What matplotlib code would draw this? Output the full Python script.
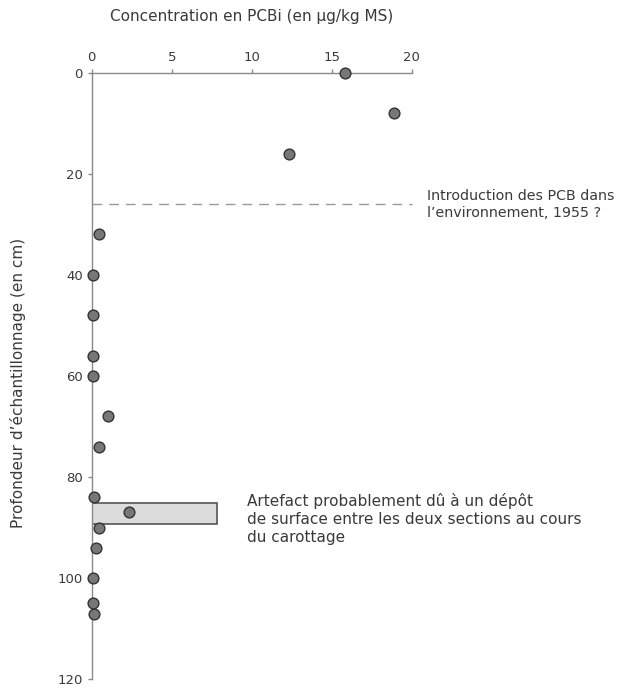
import matplotlib.pyplot as plt
import matplotlib.patches as mpatches

# concentration en PCBi (ug/kg MS) vs profondeur (cm)
concentration = [15.8, 18.9, 12.3, 0.45, 0.1, 0.06, 0.1, 0.1, 1.05, 0.48,
                 0.12, 2.35, 0.45, 0.27, 0.08, 0.08, 0.12]
profondeur = [0, 8, 16, 32, 40, 48, 56, 60, 68, 74,
              84, 87, 90, 94, 100, 105, 107]

x_ticks = [0, 5, 10, 15, 20]
y_ticks = [0, 20, 40, 60, 80, 100, 120]
introduction_depth = 26
artefact_top = 85.1
artefact_bottom = 89.3
artefact_width = 7.8

axis_color = '#8a8a8a'
text_color = '#3a3a3a'

plt.rcParams['font.family'] = ['DejaVu Sans']
fig = plt.figure(figsize=(6.35, 6.91), dpi=100)
ax = fig.add_axes([0.1444, 0.0169, 0.504, 0.8779])

ax.add_patch(mpatches.Rectangle((0, artefact_top), artefact_width, artefact_bottom - artefact_top,
                                facecolor='#dcdcdc', edgecolor='#555555', linewidth=1.2, zorder=2))
ax.plot([0, 20], [introduction_depth, introduction_depth], color='#999999', linewidth=1,
        dashes=(7, 5), zorder=1, clip_on=False)
ax.scatter(concentration, profondeur, s=60, facecolor='#777777', edgecolor='#333333',
           linewidth=1, zorder=3, clip_on=False)

ax.set_xlim(0, 20)
ax.set_ylim(120, 0)
ax.xaxis.tick_top()
ax.xaxis.set_label_position('top')
ax.set_xticks(x_ticks)
ax.set_yticks(y_ticks)
ax.tick_params(colors=axis_color, labelcolor=text_color, labelsize=9.5, length=3, width=1)
ax.tick_params(axis='x', pad=3)
for side in ['right', 'bottom']:
    ax.spines[side].set_visible(False)
for side in ['left', 'top']:
    ax.spines[side].set_color(axis_color)
    ax.spines[side].set_linewidth(1)

ax.set_xlabel('Concentration en PCBi (en µg/kg MS)', fontsize=11, color=text_color, labelpad=22)
fig.text(0.028, 0.446, 'Profondeur d\u2019échantillonnage (en cm)', fontsize=11, color=text_color,
         rotation=90, ha='center', va='center')

ax.text(20.95, introduction_depth, 'Introduction des PCB dans\nl\u2019environnement, 1955 ?',
        fontsize=10.3, color=text_color, va='center', ha='left', linespacing=1.25, clip_on=False)
ax.text(9.7, 88.3, 'Artefact probablement dû à un dépôt\nde surface entre les deux sections au cours\ndu carottage',
        fontsize=11, color=text_color, va='center', ha='left', linespacing=1.25, clip_on=False)

fig.savefig('out.png', dpi=100)
